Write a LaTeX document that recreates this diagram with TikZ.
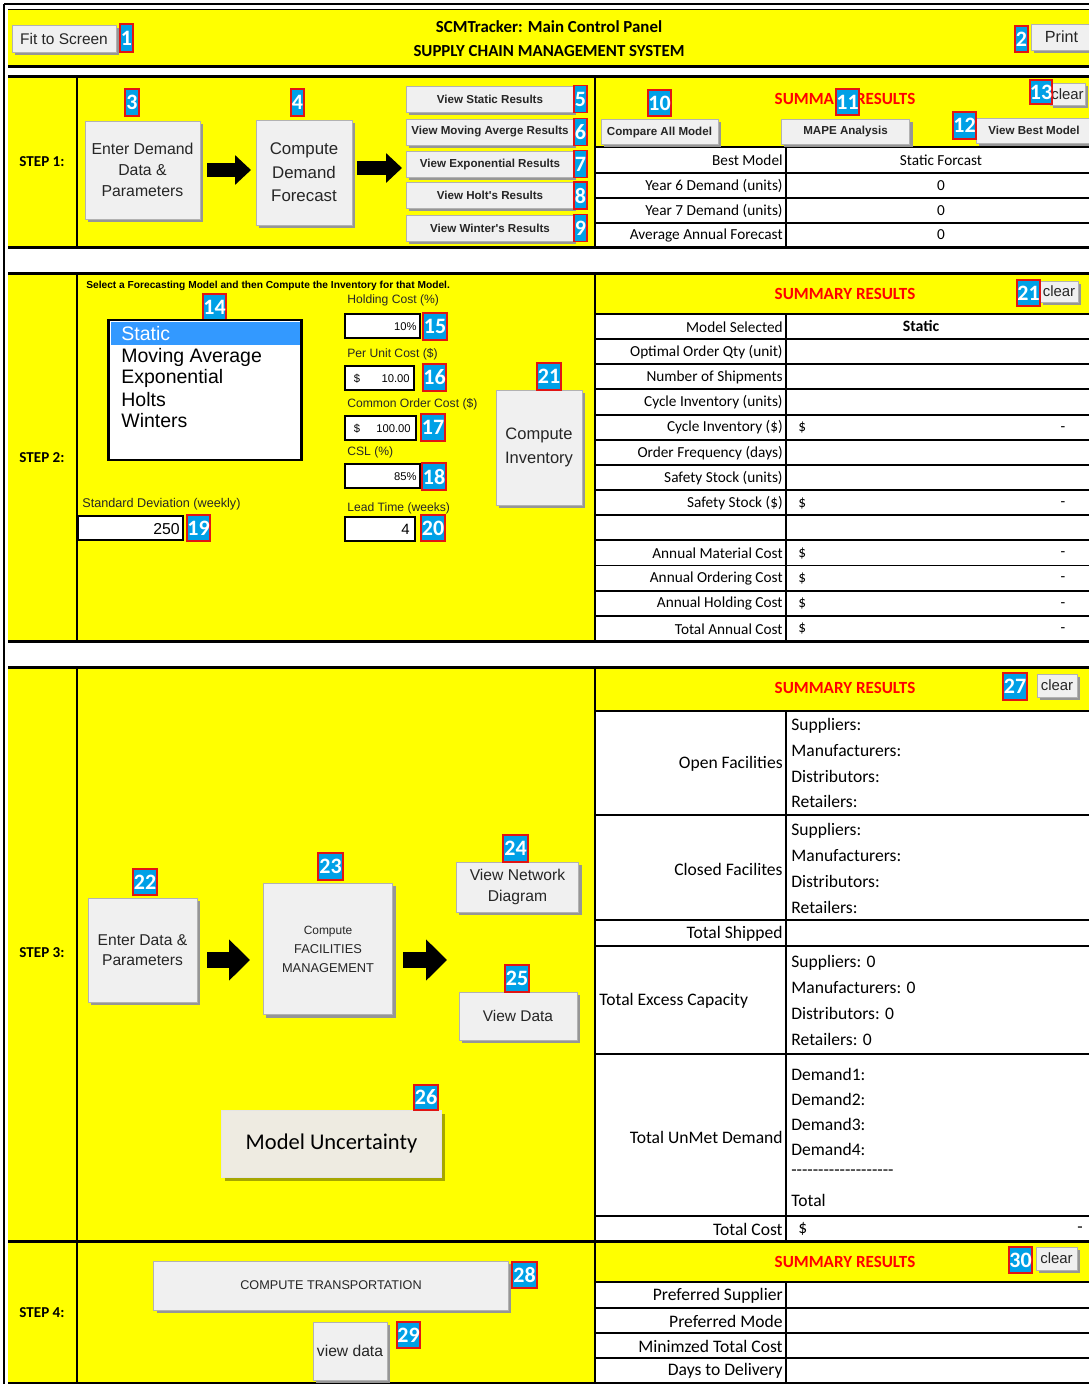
\documentclass[tikz,border=0pt]{standalone}
\usepackage{fontspec}
\setmainfont{Carlito}[Ligatures=TeXOff]
\newfontfamily\tahoma{Liberation Sans}
\usetikzlibrary{shadows,arrows.meta}

% one screen pixel
\newdimen\pxu
\pxu=0.5669pt

\definecolor{panelyellow}{RGB}{255,255,0}
\definecolor{badgeblue}{RGB}{0,160,230}
\definecolor{badgered}{RGB}{225,20,20}
\definecolor{btnface}{RGB}{240,240,240}
\definecolor{btnshade}{RGB}{150,150,150}
\definecolor{sumred}{RGB}{255,0,0}
\definecolor{selblue}{RGB}{51,153,255}
\definecolor{uncface}{RGB}{238,235,225}

\newcommand\sz[2]{\fontsize{#1pt}{#2pt}\selectfont}

% one step block: top edge, bottom of the results header, bottom edge
\newcommand\panelframe[3]{%
  \fill[panelyellow] (8,#1) rectangle (1089,#2);
  \fill[panelyellow] (8,#2) rectangle (595,#3);
  \fill[white] (595,#2) rectangle (1089,#3);
  \draw[gridline] (595,#2) -- (1089,#2);
  \draw[secline] (8,#1) -- (1089,#1);
  \draw[secline] (8,#3) -- (1089,#3);
  \draw[vline] (77,#1) -- (77,#3);
  \draw[vline] (595,#1) -- (595,#3);
}

\tikzset{
  every node/.append style={inner sep=0pt},
  secline/.style={line width=1.7pt},
  vline/.style={line width=1.4pt},
  gridline/.style={line width=1.1pt},
  btn/.style={draw=black!30, line width=0.3pt, fill=btnface, align=center,
    font=\tahoma\sz{9}{11}, text=black!85,
    drop shadow={shadow xshift=1.6pt, shadow yshift=-1.6pt, opacity=1, fill=btnshade}},
  viewbtn/.style={btn, minimum width=168\pxu, minimum height=26\pxu, font=\tahoma\bfseries\sz{6.6}{8}},
  smallbtn/.style={btn, minimum height=25\pxu, font=\tahoma\bfseries\sz{6.6}{8}},
  clearbtn/.style={btn, font=\tahoma\sz{8.5}{9}},
  uncbtn/.style={fill=uncface, draw=black!10, line width=0.3pt, font=\sz{12.8}{14},
    drop shadow={shadow xshift=2.2pt, shadow yshift=-2.2pt, opacity=0.35, fill=black}},
  badge/.style={fill=badgeblue, draw=badgered, line width=1pt, text=white,
    font=\bfseries\sz{12.5}{12}},
  fatarrowA/.style={line width=8.5pt, -{Triangle[length=9.1pt, width=16.4pt]}},
  fatarrowB/.style={line width=9.6pt, -{Triangle[length=11.9pt, width=22.7pt]}},
  inbox/.style={draw=black, line width=1.3pt, fill=white},
  lbl/.style={anchor=east, font=\sz{8.7}{10}},
  lblb/.style={anchor=east, font=\sz{10}{11}},
  valb/.style={anchor=west, font=\sz{10}{11}},
  summ/.style={text=sumred, font=\bfseries\sz{9.7}{11}},
  steplbl/.style={font=\bfseries\sz{8.6}{10}},
  fieldlbl/.style={anchor=west, font=\tahoma\sz{6.9}{8}, text=black!85},
}

\begin{document}
\begin{tikzpicture}[x=0.02cm, y=-0.02cm]
\useasboundingbox (0,0) rectangle (1089,1384);

% outer frame
\draw[line width=1.1pt] (4,4) -- (1089,4);
\draw[line width=1.1pt] (4,4) -- (4,1384);

% ---------------- title bar
\fill[panelyellow] (8,10) rectangle (1089,65);
\draw[line width=0.6pt] (8,9.5) -- (1089,9.5);
\draw[secline] (8,66) -- (1089,66);
\node[font=\bfseries\sz{9.6}{11}] (ttl1) at (549,27) {SCMTracker: Main Control Panel};
\node[font=\bfseries\sz{9.6}{11}] (ttl2) at (549,51) {SUPPLY CHAIN MANAGEMENT SYSTEM};
\node[btn, minimum width=104\pxu, minimum height=27\pxu, font=\tahoma\sz{8.8}{10}] (fit) at (64,38.5) {Fit to Screen};
\node[badge, minimum width=13\pxu, minimum height=28\pxu] (n1) at (126.5,38) {1};
\node[btn, minimum width=61\pxu, minimum height=26\pxu, font=\tahoma\sz{9.2}{10}] (prt) at (1061.5,37) {Print};
\node[badge, minimum width=13\pxu, minimum height=26\pxu] (n2) at (1021.5,39) {2};

% ---------------- STEP 1
\panelframe{76}{147}{247}
\node[steplbl] (st1) at (42,162) {STEP 1:};
\node[badge, minimum width=14\pxu, minimum height=27\pxu] (n3) at (132,102.5) {3};
\node[btn, minimum width=115\pxu, minimum height=98\pxu, font=\tahoma\sz{9}{11.9}] (b3) at (142.5,170) {Enter Demand\\Data \&\\Parameters};
\node[badge, minimum width=13\pxu, minimum height=27\pxu] (n4) at (297.5,102.5) {4};
\node[btn, minimum width=96\pxu, minimum height=105\pxu, font=\tahoma\sz{9.6}{13.3}] (b4) at (304,172.5) {Compute\\Demand\\Forecast};
\foreach \i/\yy/\t in {5/99/View Static Results, 6/132/View Moving Averge Results,
    7/164/View Exponential Results, 8/195.5/View Holt's Results, 9/228/View Winter's Results}{
  \node[viewbtn] (v\i) at (490,\yy) {\t};
  \node[badge, minimum width=13\pxu, minimum height=27\pxu] (n\i) at (580.5,\yy) {\i};
}
\coordinate (a1y) at (0,170);
\draw[fatarrowA, shorten <=4pt, shorten >=2.8pt] (b3.east |- a1y) -- (b4.west |- a1y);
\coordinate (a2y) at (0,168);
\draw[fatarrowA, shorten <=2.8pt, shorten >=2.3pt] (b4.east |- a2y) -- (v7.west |- a2y);

% results of step 1
\node[summ] (sum1) at (845,99) {SUMMARY RESULTS};
\node[clearbtn, minimum width=35\pxu, minimum height=22\pxu] (clr1) at (1067.5,94) {clear};
\node[badge, minimum width=23\pxu, minimum height=26\pxu] (n10) at (659.5,103) {10};
\node[badge, minimum width=23\pxu, minimum height=26\pxu] (n11) at (847.5,102) {11};
\node[badge, minimum width=22\pxu, minimum height=24\pxu] (n13) at (1041,92) {13};
\node[smallbtn, minimum width=117\pxu] (cmp) at (659.5,132) {Compare All Model};
\node[smallbtn, minimum width=129\pxu] (mape) at (845.5,131.5) {MAPE Analysis};
\node[smallbtn, minimum width=116\pxu] (best) at (1034,130.5) {View Best Model};
\node[badge, minimum width=23\pxu, minimum height=27\pxu] (n12) at (964.5,125.5) {12};
\foreach \yy in {173,198,223} \draw[gridline] (595,\yy) -- (1089,\yy);
\draw[gridline] (786,147) -- (786,247);
\foreach \i/\yy/\l/\v in {1/160.5/Best Model/Static Forcast, 2/185.5/Year 6 Demand (units)/0,
    3/210.5/Year 7 Demand (units)/0, 4/235/Average Annual Forecast/0}{
  \node[lbl] (r1l\i) at (783,\yy) {\l};
  \node[font=\sz{8.7}{10}] (r1v\i) at (941,\yy) {\v};
}

% ---------------- STEP 2
\panelframe{273}{314}{641}
\node[steplbl] (st2) at (42,458) {STEP 2:};
\node[anchor=west, font=\tahoma\bfseries\sz{5.8}{7}] (instr) at (86,286) {Select a Forecasting Model and then Compute the Inventory for that Model.};
\node[badge, minimum width=23\pxu, minimum height=26\pxu] (n14) at (214.5,307) {14};
\node[inbox, minimum width=194\pxu, minimum height=140\pxu,
  drop shadow={shadow xshift=0.9pt, shadow yshift=-0.9pt, opacity=1, fill=black}] (lst) at (205,390) {};
\fill[selblue] (111,322) rectangle (300,345);
\node[anchor=west, font=\tahoma\sz{11.1}{12}, text=white] (li1) at (121,334) {Static};
\foreach \i/\yy/\t in {2/357/Moving Average, 3/378/Exponential, 4/400/Holts, 5/421/Winters}
  \node[anchor=west, font=\tahoma\sz{11.1}{12}] (li\i) at (121,\yy) {\t};

\foreach \i/\yy/\t in {1/300/Holding Cost (\%), 2/354/Per Unit Cost (\$), 3/404/Common Order Cost (\$),
    4/452/CSL (\%), 5/508/Lead Time (weeks)}
  \node[fieldlbl] (fl\i) at (347,\yy) {\t};

\node[inbox, minimum width=75\pxu, minimum height=24\pxu] (tb15) at (382.5,326) {};
\node[anchor=east, font=\tahoma\sz{6.4}{7}] (tv15) at (417,327) {10\%};
\node[badge, minimum width=24\pxu, minimum height=27\pxu] (n15) at (435,326.5) {15};

\node[inbox, minimum width=69\pxu, minimum height=24\pxu] (tb16) at (379.5,378) {};
\node[font=\tahoma\sz{6.4}{7}] (td16) at (357,379) {\$};
\node[anchor=east, font=\tahoma\sz{6.4}{7}] (tv16) at (410,379) {10.00};
\node[badge, minimum width=23\pxu, minimum height=27\pxu] (n16) at (434.5,377.5) {16};

\node[inbox, minimum width=71\pxu, minimum height=24\pxu] (tb17) at (380.5,428) {};
\node[font=\tahoma\sz{6.4}{7}] (td17) at (357,429) {\$};
\node[anchor=east, font=\tahoma\sz{6.4}{7}] (tv17) at (411,429) {100.00};
\node[badge, minimum width=24\pxu, minimum height=27\pxu] (n17) at (433,427.5) {17};

\node[inbox, minimum width=75\pxu, minimum height=24\pxu] (tb18) at (382.5,476) {};
\node[anchor=east, font=\tahoma\sz{6.4}{7}] (tv18) at (417,477) {85\%};
\node[badge, minimum width=24\pxu, minimum height=27\pxu] (n18) at (434,476.5) {18};

\node[inbox, minimum width=70\pxu, minimum height=24\pxu] (tb20) at (380,529) {};
\node[anchor=east, font=\tahoma\sz{8.5}{9}] (tv20) at (410,529) {4};
\node[badge, minimum width=24\pxu, minimum height=26\pxu] (n20) at (433,528) {20};

\node[fieldlbl, font=\tahoma\sz{7.2}{8}] (sdl) at (82,504) {Standard Deviation (weekly)};
\node[inbox, minimum width=105\pxu, minimum height=24\pxu] (tb19) at (130.5,528) {};
\node[anchor=east, font=\tahoma\sz{9}{10}] (tv19) at (180,529) {250};
\node[badge, minimum width=23\pxu, minimum height=26\pxu] (n19) at (198.5,528) {19};

\node[btn, minimum width=86\pxu, minimum height=115\pxu, font=\tahoma\sz{9.4}{13.6}] (cinv) at (539,447.5) {Compute\\Inventory};
\node[badge, minimum width=24\pxu, minimum height=27\pxu] (n21) at (549,376.5) {21};

% results of step 2
\node[summ] (sum2) at (845,294) {SUMMARY RESULTS};
\node[clearbtn, minimum width=38\pxu, minimum height=21\pxu] (clr2) at (1059,291.5) {clear};
\node[badge, minimum width=23\pxu, minimum height=26\pxu] (n21b) at (1028.5,293) {21};
\foreach \k in {1,...,12} \draw[gridline] (595,{314+25.15*\k}) -- (1089,{314+25.15*\k});
\draw[gridline] (786,314) -- (786,641);
\foreach \i/\t in {1/Model Selected, 2/Optimal Order Qty (unit), 3/Number of Shipments,
    4/Cycle Inventory (units), 5/Cycle Inventory (\$), 6/Order Frequency (days),
    7/Safety Stock (units), 8/Safety Stock (\$), 10/Annual Material Cost,
    11/Annual Ordering Cost, 12/Annual Holding Cost, 13/Total Annual Cost}
  \node[lbl] (r2l\i) at (783,{327+25.15*(\i-1)}) {\t};
\node[font=\bfseries\sz{9}{10}] (r2v1) at (921,326) {Static};
\foreach \i in {5,8,10,11,12,13}{
  \node[anchor=west, font=\sz{8.7}{10}] (r2d\i) at (798,{327+25.15*(\i-1)}) {\$};
  \node[font=\sz{8.7}{10}] (r2m\i) at (1063,{328+25.15*(\i-1)}) {-};
}

% ---------------- STEP 3
\panelframe{667}{711}{1241}
\node[steplbl] (st3) at (42,953) {STEP 3:};
\node[btn, minimum width=109\pxu, minimum height=104\pxu, font=\tahoma\sz{8.9}{11.3}] (b22) at (142.5,950) {Enter Data \&\\Parameters};
\node[badge, minimum width=24\pxu, minimum height=26\pxu] (n22) at (145,882) {22};
\node[btn, minimum width=130\pxu, minimum height=132\pxu, font=\tahoma\sz{7.3}{10.8}] (b23) at (328,949) {{\sz{6.8}{10.8}Compute}\\FACILITIES\\MANAGEMENT};
\node[badge, minimum width=25\pxu, minimum height=27\pxu] (n23) at (330.5,866.5) {23};
\node[btn, minimum width=123\pxu, minimum height=50\pxu, font=\tahoma\sz{8.9}{11.9}] (b24) at (517.5,887) {View Network\\Diagram};
\node[badge, minimum width=25\pxu, minimum height=27\pxu] (n24) at (515.5,848.5) {24};
\node[btn, minimum width=118\pxu, minimum height=48\pxu, font=\tahoma\sz{8.8}{10}] (b25) at (518,1016) {View Data};
\node[badge, minimum width=24\pxu, minimum height=27\pxu] (n25) at (517,978.5) {25};
\node[uncbtn, minimum width=221\pxu, minimum height=67\pxu] (b26) at (331.5,1143.5) {Model Uncertainty};
\node[badge, minimum width=24\pxu, minimum height=25\pxu] (n26) at (426,1097.5) {26};
\coordinate (a3y) at (0,960);
\draw[fatarrowB, shorten <=5.7pt, shorten >=7.4pt] (b22.east |- a3y) -- (b23.west |- a3y);
\draw[fatarrowB, shorten <=5.7pt, shorten >=5.1pt] (b23.east |- a3y) -- (b24.west |- a3y);

% results of step 3
\node[summ] (sum3) at (845,688) {SUMMARY RESULTS};
\node[clearbtn, minimum width=40\pxu, minimum height=23\pxu] (clr3) at (1057,685.5) {clear};
\node[badge, minimum width=24\pxu, minimum height=27\pxu] (n27) at (1015,686.5) {27};
\foreach \yy in {815,920,946,1054,1216} \draw[gridline] (595,\yy) -- (1089,\yy);
\draw[gridline] (786,711) -- (786,1241);
\node[lblb] (r3l1) at (783,764) {Open Facilities};
\node[lblb] (r3l2) at (783,869) {Closed Facilites};
\node[lblb] (r3l3) at (783,934) {Total Shipped};
\node[anchor=west, font=\sz{10}{11}] (r3l4) at (599,1001) {Total Excess Capacity};
\node[lblb] (r3l5) at (783,1137) {Total UnMet Demand};
\node[lblb] (r3l6) at (783,1229) {Total Cost};
\foreach \i/\yy/\t in {1/726/Suppliers:, 2/751/Manufacturers:, 3/776/Distributors:, 4/801/Retailers:}
  \node[valb] (r3o\i) at (791,\yy) {\t};
\foreach \i/\yy/\t in {1/831/Suppliers:, 2/856/Manufacturers:, 3/881/Distributors:, 4/907/Retailers:}
  \node[valb] (r3c\i) at (791,\yy) {\t};
\foreach \i/\yy/\t in {1/963/Suppliers: 0, 2/988/Manufacturers: 0, 3/1013/Distributors: 0, 4/1039/Retailers: 0}
  \node[valb] (r3e\i) at (791,\yy) {\t};
\foreach \i/\yy/\t in {1/1074/Demand1:, 2/1099/Demand2:, 3/1124/Demand3:, 4/1149/Demand4:, 6/1200/Total}
  \node[valb] (r3d\i) at (791,\yy) {\t};
\node[valb] (r3d5) at (791,1173) {-------------------};
\node[anchor=west, font=\sz{10}{11}] (r3cd) at (798,1229) {\$};
\node[font=\sz{10}{11}] (r3cm) at (1080,1230) {-};

% ---------------- STEP 4
\panelframe{1241}{1282}{1383}
\node[steplbl] (st4) at (42,1313) {STEP 4:};
\node[btn, minimum width=356\pxu, minimum height=49\pxu, font=\tahoma\sz{7.2}{8}] (b28) at (331,1285.5) {COMPUTE TRANSPORTATION};
\node[badge, minimum width=25\pxu, minimum height=26\pxu] (n28) at (524.5,1275) {28};
\node[btn, minimum width=74\pxu, minimum height=58\pxu, font=\tahoma\sz{8.9}{10}] (b29) at (350,1351) {view data};
\node[badge, minimum width=23\pxu, minimum height=26\pxu] (n29) at (408.5,1335) {29};

% results of step 4
\node[summ] (sum4) at (845,1262) {SUMMARY RESULTS};
\node[clearbtn, minimum width=41\pxu, minimum height=23\pxu] (clr4) at (1056.5,1258.5) {clear};
\node[badge, minimum width=23\pxu, minimum height=26\pxu] (n30) at (1020.5,1260) {30};
\foreach \yy in {1308,1333,1358} \draw[gridline] (595,\yy) -- (1089,\yy);
\draw[gridline] (786,1282) -- (786,1383);
\foreach \i/\yy/\t in {1/1296/Preferred Supplier, 2/1321/Preferred Mode, 3/1346/Minimzed Total Cost, 4/1371/Days to Delivery}
  \node[lblb] (r4l\i) at (783,\yy) {\t};
\end{tikzpicture}
\end{document}
